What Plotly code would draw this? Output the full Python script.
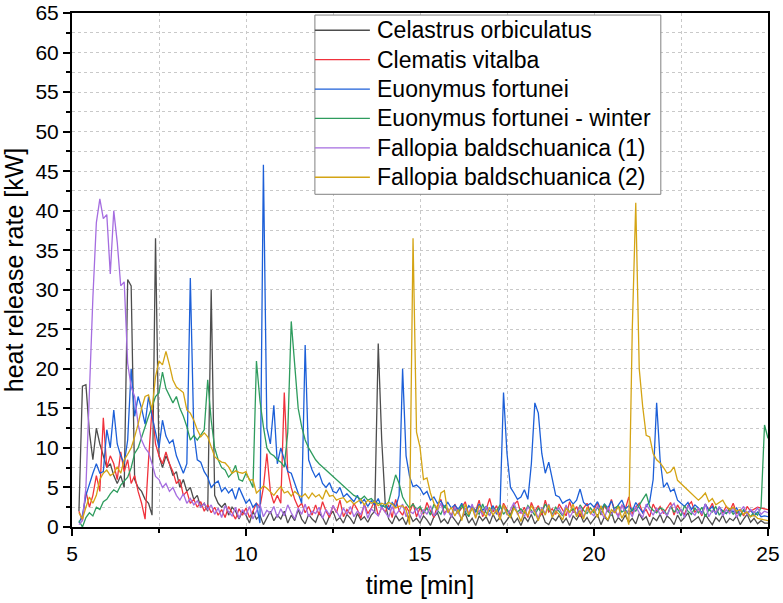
import plotly.graph_objects as go

# Sampling grid: 5.2 min to 25.0 min, every 0.1 min
T_START = 5.2
T_STEP = 0.1

# Heat release rate [kW]; rows: 5.2-5.9, then one row per minute (x.0 - x.9), last value at 25.0
celastrus_rows = [
    [2, 17.8, 18, 12, 8.5, 12.5, 10.5, 9],
    [7.5, 8, 6.5, 5.5, 6.5, 5, 31.3, 30.5, 6, 5],
    [4.5, 3.5, 3, 1.5, 36.5, 9, 7.5, 9, 8, 6.5],
    [7, 5, 6, 4.5, 5, 3.5, 4, 2.5, 3, 2],
    [30, 4, 3, 2.5, 3, 1.5, 2.5, 2, 1, 2],
    [1.5, 0.5, 2, 1, 1.5, 0.3, 1.2, 2, 0.8, 1.5],
    [1, 2, 0.5, 1.5, 0.8, 2.2, 1, 0.4, 1.6, 1],
    [0.6, 1.8, 1.2, 0.3, 1.4, 2, 0.8, 1.2, 0.5, 1.6],
    [1.1, 0.4, 1.7, 0.9, 1.3, 0.6, 1.5, 2, 23.2, 11],
    [3, 1, 0.4, 1.5, 0.8, 1.2, 0.3, 1.6, 0.7, 1.1],
    [0.5, 1.4, 0.9, 0.2, 1.3, 1.8, 0.6, 1, 0.4, 1.5],
    [0.9, 0.3, 1.2, 1.7, 0.5, 1.1, 0.2, 1.4, 0.8, 1.3],
    [0.4, 1.6, 0.7, 1.2, 0.3, 0.9, 1.5, 0.5, 1.1, 0.2],
    [1.3, 0.7, 1.6, 0.4, 1, 1.8, 0.6, 0.3, 1.2, 0.8],
    [1.5, 0.5, 1.1, 0.2, 1.4, 0.9, 1.7, 0.6, 1.2, 0.4],
    [1, 1.6, 0.3, 1.3, 0.8, 1.9, 0.5, 1.2, 0.7, 1.5],
    [0.6, 1.1, 0.4, 1.7, 0.9, 1.3, 0.2, 1.2, 0.8, 1.6],
    [0.5, 1.4, 1, 0.3, 1.5, 0.7, 1.2, 1.8, 0.6, 1],
    [1.3, 0.4, 1.6, 0.9, 0.3, 1.2, 0.7, 1.5, 0.5, 1.1],
    [0.8, 1.4, 0.3, 1, 1.6, 0.6, 1.1, 0.4, 0.8, 0.5],
    [0.5],
]

clematis_rows = [
    [2, 0.8, 4.5, 2.5, 4, 6.5, 4.5, 13.8],
    [7.5, 9, 8, 6, 9.5, 7, 8.5, 5.5, 6.5, 4.5],
    [3, 1, 8.5, 15, 10.5, 9, 8, 9.5, 8, 7],
    [5.5, 6, 4, 4.5, 3, 3.5, 2.5, 3.2, 2, 2.8],
    [1.8, 2.5, 1.5, 2.2, 1.2, 2.6, 1.8, 1, 2.3, 1.5],
    [2.4, 1.2, 2, 3, 2.5, 5, 9.3, 4.5, 3, 4],
    [3, 17, 7, 5, 3.5, 2.5, 3, 1.8, 2.6, 1.5],
    [2.8, 1.5, 3.2, 2, 1.2, 2.7, 1.8, 3.4, 1.3, 2.2],
    [1.6, 3, 2.2, 1.1, 2.9, 1.7, 2.4, 3.3, 1.4, 2.5],
    [1.9, 2.8, 1.2, 3.5, 2.1, 1.5, 2.6, 1.8, 3, 1.3],
    [2.4, 1.6, 3.1, 2, 1.2, 2.7, 3.5, 1.7, 2.3, 1.4],
    [2.9, 1.8, 2.4, 3.2, 1.5, 2.6, 2, 3.4, 1.3, 2.2],
    [3.6, 1.9, 2.7, 1.4, 3, 2.2, 1.6, 2.8, 3.3, 1.7],
    [2.5, 1.2, 3.1, 2, 2.7, 1.5, 3.4, 1.9, 2.3, 1.6],
    [2.9, 2.1, 1.4, 3.2, 1.8, 2.6, 1.3, 2.4, 3, 1.7],
    [2.2, 3.1, 1.5, 2.7, 1.9, 3.5, 2, 1.4, 2.8, 2.3],
    [3.8, 1.6, 2.5, 3, 1.8, 2.2, 1.3, 2.9, 2, 2.6],
    [1.7, 2.4, 3.1, 1.5, 2.8, 2, 1.6, 2.7, 3.2, 1.9],
    [2.3, 1.4, 2.9, 2.1, 3, 1.6, 2.5, 1.8, 2.6, 2],
    [3, 1.7, 2.2, 1.4, 2.6, 2, 2.3, 2.5, 2.4, 2.3],
    [2.2],
]

euonymus_rows = [
    [0.5, 1.5, 4, 5.5, 6.8, 8, 6.8, 7],
    [12.3, 10, 14.8, 10.5, 9, 8, 11, 20, 14, 16.5],
    [15, 13, 16.5, 14, 12, 10, 13.5, 11.5, 10.6, 11],
    [9, 8, 6.8, 8, 31.5, 12, 8.5, 8.2, 7, 6.3],
    [5, 5.5, 5.8, 4.5, 5, 4.3, 4.8, 3.5, 5, 4],
    [3, 3.5, 2.5, 3, 0.5, 45.8, 12.5, 10.5, 15.4, 8],
    [10, 8.5, 7, 6.8, 5.5, 4.3, 3, 23, 8.5, 7.2],
    [6.3, 6.8, 5.5, 5, 5.6, 4.5, 4.3, 5, 3.8, 4.2],
    [3.7, 3.2, 4, 3, 3.5, 2.6, 3.3, 2.8, 3.6, 2.4],
    [3, 2.2, 3.1, 2.5, 4, 20, 9, 6.4, 5.1, 5.3],
    [4.9, 4.1, 4.5, 3.4, 3.8, 3, 3.3, 2.5, 3.1, 2.4],
    [2.8, 2.2, 3, 1.8, 2.7, 2.3, 1.9, 2.9, 2.1, 2.6],
    [2, 2.7, 1.6, 2.4, 17, 9.3, 5, 4.3, 3.5, 3.8],
    [4.7, 3.5, 8, 15.7, 14.4, 9.3, 6.8, 8.2, 6, 4],
    [3.8, 3, 3.3, 3.5, 2.9, 3.4, 4.8, 3.1, 2.7, 3],
    [2.5, 3.2, 2.2, 2.9, 2.4, 3.3, 2, 2.8, 3.4, 2.3],
    [2.7, 2, 3.1, 2.4, 1.8, 2.6, 3.2, 6, 15.7, 8.5],
    [5, 5.6, 4.5, 4.8, 3.4, 3, 2.6, 3.1, 2.2, 2.8],
    [2.4, 1.8, 2.9, 2.1, 2.6, 1.6, 2.5, 2, 1.7, 2.3],
    [1.9, 2.4, 1.5, 2.1, 1.7, 2.2, 1.4, 1.9, 1.3, 1.4],
    [1.3],
]

euonymus_winter_rows = [
    [0.8, 0, 1.2, 1.8, 1.4, 2.5, 2.2, 3.2],
    [3.5, 4.2, 4.7, 4.4, 5.3, 5.8, 6.3, 7.5, 9.3, 10],
    [11.4, 12.5, 14, 15.2, 16.5, 17, 19.6, 17.5, 16.5, 15.7],
    [16.5, 15, 14, 12.7, 11, 11.6, 11, 11.6, 12.3, 18.6],
    [13.5, 10, 8.5, 7.5, 7.2, 6.3, 6.8, 7.8, 6, 5.8],
    [6.8, 6, 5, 21, 16, 12.7, 10, 9.3, 9, 8.5],
    [8.2, 7.6, 12, 26, 21, 15, 12.7, 11, 10, 9.2],
    [8.5, 8, 7.6, 7.2, 6.8, 6.3, 5.9, 5.5, 5.1, 4.8],
    [4.3, 4, 3.8, 3.5, 3.9, 3.4, 3.6, 3.1, 3, 2.8],
    [2.5, 3.2, 5, 6.6, 5.5, 3.8, 3, 2.4, 2.9, 2.2],
    [2.6, 1.8, 2.4, 1.5, 2.9, 2.1, 1.6, 2.7, 2, 1.4],
    [2.3, 1.7, 2.8, 1.9, 1.3, 2.5, 2.1, 1.6, 2.9, 1.8],
    [1.5, 2.4, 2, 2.8, 1.6, 2.2, 1.4, 2.6, 1.9, 2.3],
    [1.7, 2.7, 2.1, 1.5, 2.4, 1.8, 2.9, 2.2, 1.6, 2.5],
    [2, 1.4, 2.6, 1.9, 2.3, 1.5, 2.8, 2.1, 1.7, 2.4],
    [1.8, 2.5, 1.6, 2.9, 2, 1.5, 2.4, 2.7, 1.9, 2.2],
    [1.6, 2.3, 2, 2.8, 3.5, 4.2, 2.6, 2.1, 1.8, 2.4],
    [2.2, 1.5, 2.6, 1.9, 2.3, 1.4, 2.7, 2, 1.6, 2.4],
    [1.8, 2.5, 1.3, 2.2, 1.9, 2.6, 1.5, 2.1, 1.7, 2.3],
    [1.6, 2, 1.4, 2.2, 1.8, 1.3, 1.9, 1.5, 2.5, 12.9],
    [11.2],
]

fallopia1_rows = [
    [0.3, 0.8, 5, 18, 29, 38.5, 41.5, 39],
    [39.5, 32, 40, 36, 30.5, 31, 20.7, 17.7, 16.5, 13],
    [11, 10, 9.4, 8, 6.4, 6, 5, 5.5, 4.5, 5],
    [4, 3.4, 4.2, 3, 3.6, 2.8, 3.3, 2.5, 3, 2.2],
    [2.8, 1.6, 2.4, 1.2, 2.7, 1.9, 1.4, 2.5, 1.1, 2.2],
    [1.5, 2.6, 1, 2, 2.9, 1.3, 2.1, 1.7, 2.6, 1.2],
    [2.3, 1.4, 2.8, 1.8, 1, 2.4, 1.6, 2.9, 1.3, 2],
    [1.7, 2.5, 1.1, 2.2, 1.5, 2.7, 1.9, 1.2, 2.4, 1.6],
    [2.6, 1.3, 2, 1.6, 2.8, 1.1, 2.3, 1.8, 1.4, 2.5],
    [1.9, 1.2, 2.6, 1.5, 2.1, 2.9, 1.3, 2, 1.7, 2.4],
    [1.1, 2.2, 1.6, 2.7, 1.4, 2, 3, 1.5, 2.3, 1.2],
    [2.5, 1.8, 1, 2.4, 1.7, 2.9, 1.3, 2.1, 1.6, 2.6],
    [1.4, 2.3, 1.9, 1.2, 2.7, 1.5, 2.2, 3.1, 1.6, 2],
    [1.3, 2.6, 1.8, 2.2, 1.1, 2.5, 1.7, 2.9, 1.4, 2.1],
    [2.4, 1.5, 2.8, 1.2, 2, 1.7, 2.6, 1.3, 2.2, 1.8],
    [1.4, 2.7, 1.9, 1.1, 2.5, 1.6, 2.3, 1.2, 2.8, 1.7],
    [2.1, 1.3, 2.6, 1.8, 1.2, 2.9, 2.2, 1.5, 2.4, 1.6],
    [2, 1.4, 2.5, 3, 1.7, 2.3, 1.2, 2.7, 1.9, 1.5],
    [2.4, 1.6, 2.9, 1.3, 2.1, 1.8, 2.6, 1.4, 2.2, 1.7],
    [2.5, 1.2, 2, 2.6, 1.5, 2.2, 1.8, 2.4, 1.6, 2],
    [1.8],
]

fallopia2_rows = [
    [1.8, 1, 2.5, 3.8, 3, 4, 6, 6.8],
    [7.2, 6.5, 6.8, 7.6, 6.8, 8.5, 9.2, 10, 11.4, 13],
    [15, 16.5, 16.7, 14.8, 19, 21, 20.5, 22.2, 20.5, 18.6],
    [17.7, 17.3, 17, 14.8, 14.4, 13.5, 12.3, 11.4, 11.9, 11.4],
    [10.1, 8.9, 8.5, 8.2, 8.1, 7.6, 6.8, 7.1, 6.9, 6.8],
    [7, 5.9, 6, 4.3, 4.7, 5.2, 4.9, 4.4, 4, 4.6],
    [5.1, 4.3, 4.5, 3.9, 4.5, 4.1, 3.8, 4.2, 3.6, 4.3],
    [3.8, 4.1, 3.5, 4.7, 3.9, 4, 3.4, 3.6, 3.7, 3.1],
    [3.4, 2.9, 3.2, 3.5, 2.8, 3.4, 3, 3.2, 2.7, 3],
    [2.8, 3.1, 2.9, 2.4, 2.6, 2.7, 2.2, 0.3, 36.5, 12],
    [10.1, 6, 6.2, 4.3, 3, 2.2, 4.3, 4.6, 1.8, 2.5],
    [1.4, 2.2, 0.8, 2.9, 1.6, 2.4, 1.1, 2.7, 1.9, 1.3],
    [2.5, 1.5, 2.2, 0.9, 2.8, 1.7, 1.2, 2.4, 1.8, 0.7],
    [2.1, 1.4, 2.7, 1.9, 0.8, 2.3, 1.5, 2.8, 1.2, 2],
    [1.6, 0.9, 2.4, 1.8, 2.9, 1.3, 2.1, 1, 2.5, 1.7],
    [2.3, 1.2, 2.7, 1.5, 0.9, 2.2, 1.8, 2.6, 1.1, 2],
    [0.3, 25, 41, 20, 15.2, 11.6, 11.4, 9.3, 8.5, 8.1],
    [7.5, 6.8, 7, 7.6, 5.9, 5.5, 5.1, 4.6, 4.3, 3.9],
    [3.4, 3.8, 4.3, 3.2, 3.6, 2.8, 3.1, 3.4, 2.6, 2.2],
    [2.5, 2, 2.2, 1.6, 1.9, 1.3, 1.5, 1.1, 1, 0.9],
    [0.8],
]

SERIES_NAMES = [
    "Celastrus orbiculatus",
    "Clematis vitalba",
    "Euonymus fortunei",
    "Euonymus fortunei - winter",
    "Fallopia baldschuanica (1)",
    "Fallopia baldschuanica (2)",
]
SERIES_COLORS = ["#4d4d4d", "#f0323c", "#1c5fd8", "#2e9c5e", "#a56de0", "#d4a414"]
SERIES_ROWS = [celastrus_rows, clematis_rows, euonymus_rows,
               euonymus_winter_rows, fallopia1_rows, fallopia2_rows]


def flatten(rows):
    return [v for r in rows for v in r]


fig = go.Figure()
for name, color, rows in zip(SERIES_NAMES, SERIES_COLORS, SERIES_ROWS):
    y = flatten(rows)
    t = [round(T_START + T_STEP * i, 3) for i in range(len(y))]
    fig.add_trace(go.Scatter(x=t, y=y, mode="lines", name=name, showlegend=False,
                             line=dict(color=color, width=1.3)))

FONT = "Arial, Liberation Sans, sans-serif"
grid = dict(showgrid=True, gridcolor="#c9c9c9", gridwidth=1, griddash="dot")

# ---- custom legend (paper coordinates) ----
LEG_X0, LEG_X1 = 0.349, 0.846
LEG_Y1 = 0.996
ROW_H = 0.0572
LEG_Y0 = LEG_Y1 - ROW_H * 6 - 0.0055
SAMPLE_X0, SAMPLE_X1 = LEG_X0, 0.428
TEXT_X = 0.436

shapes = [dict(type="rect", xref="paper", yref="paper", x0=LEG_X0, x1=LEG_X1,
               y0=LEG_Y0, y1=LEG_Y1, fillcolor="white",
               line=dict(color="#808080", width=1), layer="above")]
annotations = []
for i, (name, color) in enumerate(zip(SERIES_NAMES, SERIES_COLORS)):
    yc = LEG_Y1 - ROW_H * (i + 0.5) - 0.001
    shapes.append(dict(type="line", xref="paper", yref="paper",
                       x0=SAMPLE_X0, x1=SAMPLE_X1, y0=yc, y1=yc,
                       line=dict(color=color, width=1.3), layer="above"))
    annotations.append(dict(text=name, xref="paper", yref="paper", x=TEXT_X, y=yc,
                            xanchor="left", yanchor="middle", showarrow=False,
                            font=dict(size=23, family=FONT, color="black")))

fig.update_layout(
    width=783, height=603,
    margin=dict(l=72, r=15, t=13, b=76, autoexpand=False),
    paper_bgcolor="white", plot_bgcolor="white",
    font=dict(family=FONT, color="black"),
    showlegend=False,
    shapes=shapes,
    annotations=annotations,
    xaxis=dict(range=[5, 25], dtick=5, tick0=5, ticks="outside", ticklen=7,
               tickwidth=2, tickcolor="black", showline=True, linecolor="black",
               linewidth=2, mirror=True, zeroline=False, automargin=False,
               tickfont=dict(size=21, family=FONT),
               title=dict(text="time [min]", font=dict(size=25, family=FONT), standoff=12),
               minor=dict(dtick=2.5, ticks="outside", ticklen=4, tickwidth=2,
                          tickcolor="black", **grid),
               **grid),
    yaxis=dict(range=[0, 65], dtick=5, tick0=0, ticks="outside", ticklen=7,
               tickwidth=2, tickcolor="black", showline=True, linecolor="black",
               linewidth=2, mirror=True, zeroline=False, automargin=False,
               tickfont=dict(size=21, family=FONT),
               title=dict(text="heat release rate [kW]", font=dict(size=25, family=FONT), standoff=8),
               minor=dict(dtick=2.5, ticks="outside", ticklen=4, tickwidth=2,
                          tickcolor="black", **grid),
               **grid),
)

fig.write_html("out.html")
